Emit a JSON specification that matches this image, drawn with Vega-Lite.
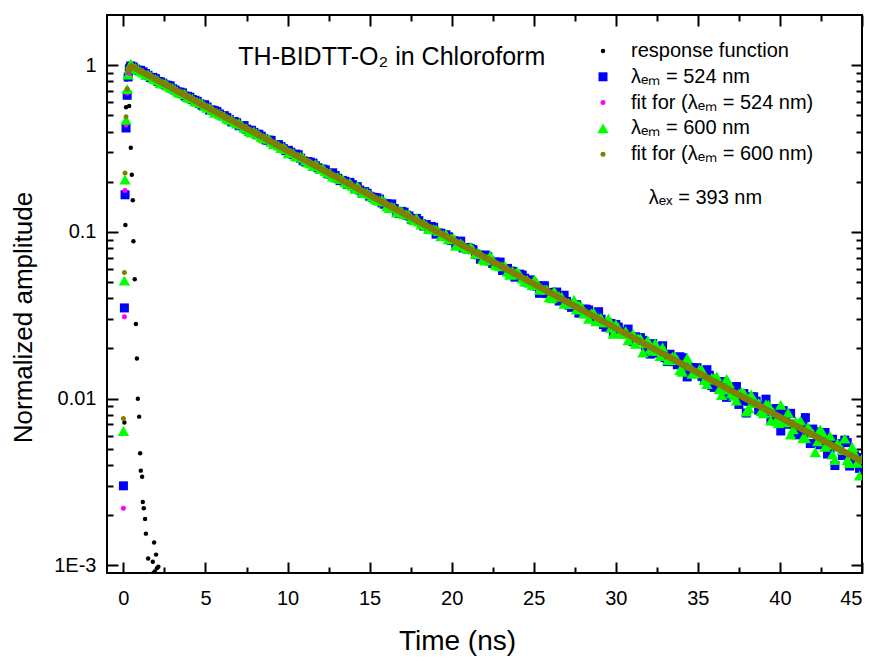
{
"$schema": "https://vega.github.io/schema/vega-lite/v6.json",
"width": 755, "height": 558,
"autosize": {"type": "none"},
"padding": {"left": 107, "top": 15, "right": 15, "bottom": 86},
"background": "white",
"config": {
 "view": {"stroke": "black", "strokeWidth": 2},
 "axis": {"grid": false, "domain": false, "labelFont": "Liberation Sans", "titleFont": "Liberation Sans", "labelColor": "black", "titleColor": "black", "titleFontWeight": "normal", "tickColor": "black", "tickWidth": 2, "labelFontSize": 20, "titleFontSize": 26},
 "legend": {"labelFont": "Liberation Sans", "labelFontSize": 20, "labelColor": "black", "labelLimit": 400, "rowPadding": 5.8, "labelOffset": 18, "padding": 0, "symbolStrokeWidth": 0, "symbolOpacity": 1, "orient": "none", "legendX": 486, "legendY": 26, "direction": "vertical"},
 "text": {"font": "Liberation Sans", "color": "black"}
},
"datasets": {
"pts": [
{"s":"a","t":0.06,"v":0.0072},{"s":"a","t":0.12,"v":0.11},{"s":"a","t":0.16,"v":0.56},{"s":"a","t":0.2,"v":0.82},{"s":"a","t":0.24,"v":1.0},{"s":"a","t":0.3,"v":0.85},{"s":"a","t":0.35,"v":0.57},{"s":"a","t":0.45,"v":0.32},{"s":"a","t":0.51,"v":0.22},{"s":"a","t":0.57,"v":0.155},{"s":"a","t":0.61,"v":0.088},{"s":"a","t":0.69,"v":0.052},{"s":"a","t":0.76,"v":0.028},{"s":"a","t":0.82,"v":0.0174},{"s":"a","t":0.88,"v":0.01},{"s":"a","t":0.96,"v":0.0078},{"s":"a","t":1.02,"v":0.0047},{"s":"a","t":1.06,"v":0.0037},{"s":"a","t":1.14,"v":0.0034},{"s":"a","t":1.18,"v":0.0024},{"s":"a","t":1.24,"v":0.0022},{"s":"a","t":1.32,"v":0.0019},{"s":"a","t":1.37,"v":0.00155},{"s":"a","t":1.51,"v":0.0011},{"s":"a","t":1.79,"v":0.00105},{"s":"a","t":1.83,"v":0.0009},{"s":"a","t":1.87,"v":0.00137},{"s":"a","t":1.91,"v":0.00092},{"s":"a","t":1.99,"v":0.00116},{"s":"a","t":2.04,"v":0.00096},{"s":"a","t":2.13,"v":0.00098},
{"s":"b","t":0.0,"v":0.003},{"s":"b","t":0.06,"v":0.035},{"s":"b","t":0.1,"v":0.167},{"s":"b","t":0.16,"v":0.42},{"s":"b","t":0.23,"v":0.66},{"s":"b","t":0.29,"v":0.85},{"s":"b","t":0.36,"v":0.94},{"s":"b","t":0.45,"v":0.99},
{"s":"b","t":0.6,"v":0.976},{"s":"b","t":0.9,"v":0.9325},{"s":"b","t":1.2,"v":0.9126},{"s":"b","t":1.5,"v":0.8692},{"s":"b","t":1.8,"v":0.8452},{"s":"b","t":2.1,"v":0.7997},{"s":"b","t":2.4,"v":0.7808},{"s":"b","t":2.7,"v":0.7574},{"s":"b","t":3.0,"v":0.7226},{"s":"b","t":3.3,"v":0.6926},
{"s":"b","t":3.6,"v":0.6825},{"s":"b","t":3.9,"v":0.6503},{"s":"b","t":4.2,"v":0.6223},{"s":"b","t":4.5,"v":0.6069},{"s":"b","t":4.8,"v":0.5745},{"s":"b","t":5.1,"v":0.5618},{"s":"b","t":5.4,"v":0.539},{"s":"b","t":5.7,"v":0.5271},{"s":"b","t":6.0,"v":0.4976},{"s":"b","t":6.3,"v":0.4862},
{"s":"b","t":6.6,"v":0.4569},{"s":"b","t":6.9,"v":0.4518},{"s":"b","t":7.2,"v":0.4331},{"s":"b","t":7.5,"v":0.4137},{"s":"b","t":7.8,"v":0.4068},{"s":"b","t":8.1,"v":0.3857},{"s":"b","t":8.4,"v":0.375},{"s":"b","t":8.7,"v":0.3555},{"s":"b","t":9.0,"v":0.3538},{"s":"b","t":9.3,"v":0.3343},
{"s":"b","t":9.6,"v":0.3252},{"s":"b","t":9.9,"v":0.307},{"s":"b","t":10.2,"v":0.3006},{"s":"b","t":10.5,"v":0.293},{"s":"b","t":10.8,"v":0.2771},{"s":"b","t":11.1,"v":0.2628},{"s":"b","t":11.4,"v":0.2617},{"s":"b","t":11.7,"v":0.2494},{"s":"b","t":12.0,"v":0.2382},{"s":"b","t":12.3,"v":0.2356},
{"s":"b","t":12.6,"v":0.2226},{"s":"b","t":12.9,"v":0.2179},{"s":"b","t":13.2,"v":0.2031},{"s":"b","t":13.5,"v":0.2012},{"s":"b","t":13.8,"v":0.1983},{"s":"b","t":14.1,"v":0.1841},{"s":"b","t":14.4,"v":0.1783},{"s":"b","t":14.7,"v":0.1744},{"s":"b","t":15.0,"v":0.1637},{"s":"b","t":15.3,"v":0.1609},
{"s":"b","t":15.6,"v":0.1574},{"s":"b","t":15.9,"v":0.1466},{"s":"b","t":16.2,"v":0.1449},{"s":"b","t":16.5,"v":0.1382},{"s":"b","t":16.8,"v":0.1293},{"s":"b","t":17.1,"v":0.1314},{"s":"b","t":17.4,"v":0.1247},{"s":"b","t":17.7,"v":0.1184},{"s":"b","t":18.0,"v":0.1169},{"s":"b","t":18.3,"v":0.1084},
{"s":"b","t":18.6,"v":0.1072},{"s":"b","t":18.9,"v":0.1066},{"s":"b","t":19.2,"v":0.09857},{"s":"b","t":19.5,"v":0.09421},{"s":"b","t":19.8,"v":0.09352},{"s":"b","t":20.1,"v":0.08865},{"s":"b","t":20.4,"v":0.08779},{"s":"b","t":20.7,"v":0.0801},{"s":"b","t":21.0,"v":0.08039},{"s":"b","t":21.3,"v":0.07829},
{"s":"b","t":21.6,"v":0.07295},{"s":"b","t":21.9,"v":0.07139},{"s":"b","t":22.2,"v":0.07105},{"s":"b","t":22.5,"v":0.06466},{"s":"b","t":22.8,"v":0.06425},{"s":"b","t":23.1,"v":0.05869},{"s":"b","t":23.4,"v":0.06043},{"s":"b","t":23.7,"v":0.05797},{"s":"b","t":24.0,"v":0.05477},{"s":"b","t":24.3,"v":0.05505},
{"s":"b","t":24.6,"v":0.05004},{"s":"b","t":24.9,"v":0.04985},{"s":"b","t":25.2,"v":0.04749},{"s":"b","t":25.5,"v":0.04729},{"s":"b","t":25.8,"v":0.04266},{"s":"b","t":26.1,"v":0.04342},{"s":"b","t":26.4,"v":0.04358},{"s":"b","t":26.7,"v":0.0388},{"s":"b","t":27.0,"v":0.0383},{"s":"b","t":27.3,"v":0.03527},
{"s":"b","t":27.6,"v":0.03664},{"s":"b","t":27.9,"v":0.03358},{"s":"b","t":28.2,"v":0.03439},{"s":"b","t":28.5,"v":0.03155},{"s":"b","t":28.8,"v":0.02953},{"s":"b","t":29.1,"v":0.02995},{"s":"b","t":29.4,"v":0.02682},{"s":"b","t":29.7,"v":0.02822},{"s":"b","t":30.0,"v":0.02787},{"s":"b","t":30.3,"v":0.0252},
{"s":"b","t":30.6,"v":0.02477},{"s":"b","t":30.9,"v":0.02255},{"s":"b","t":31.2,"v":0.02351},{"s":"b","t":31.5,"v":0.02323},{"s":"b","t":31.8,"v":0.02065},{"s":"b","t":32.1,"v":0.0185},{"s":"b","t":32.4,"v":0.02012},{"s":"b","t":32.7,"v":0.01899},{"s":"b","t":33.0,"v":0.01759},{"s":"b","t":33.3,"v":0.01847},
{"s":"b","t":33.6,"v":0.01665},{"s":"b","t":33.9,"v":0.01784},{"s":"b","t":34.2,"v":0.01564},{"s":"b","t":34.5,"v":0.0142},{"s":"b","t":34.8,"v":0.01514},{"s":"b","t":35.1,"v":0.01437},{"s":"b","t":35.4,"v":0.01306},{"s":"b","t":35.7,"v":0.01382},{"s":"b","t":36.0,"v":0.01168},{"s":"b","t":36.3,"v":0.01246},
{"s":"b","t":36.6,"v":0.01265},{"s":"b","t":36.9,"v":0.01085},{"s":"b","t":37.2,"v":0.011},{"s":"b","t":37.5,"v":0.009233},{"s":"b","t":37.8,"v":0.01073},{"s":"b","t":38.1,"v":0.009609},{"s":"b","t":38.4,"v":0.01026},{"s":"b","t":38.7,"v":0.008532},{"s":"b","t":39.0,"v":0.00904},{"s":"b","t":39.3,"v":0.008556},
{"s":"b","t":39.6,"v":0.007413},{"s":"b","t":39.9,"v":0.008323},{"s":"b","t":40.2,"v":0.008476},{"s":"b","t":40.5,"v":0.007021},{"s":"b","t":40.8,"v":0.007031},{"s":"b","t":41.1,"v":0.006065},{"s":"b","t":41.4,"v":0.006875},{"s":"b","t":41.7,"v":0.006249},{"s":"b","t":42.0,"v":0.00657},{"s":"b","t":42.3,"v":0.005455},
{"s":"b","t":42.6,"v":0.00579},{"s":"b","t":42.9,"v":0.004652},{"s":"b","t":43.2,"v":0.005709},{"s":"b","t":43.5,"v":0.005276},{"s":"b","t":43.8,"v":0.00456},{"s":"b","t":44.1,"v":0.005451},{"s":"b","t":44.4,"v":0.004073},{"s":"b","t":44.7,"v":0.004436},{"s":"b","t":45.0,"v":0.00405},
{"s":"b","t":0.75,"v":0.9466},{"s":"b","t":1.05,"v":0.9317},{"s":"b","t":1.35,"v":0.8909},{"s":"b","t":1.65,"v":0.8426},{"s":"b","t":1.95,"v":0.8303},{"s":"b","t":2.25,"v":0.7946},{"s":"b","t":2.55,"v":0.7614},{"s":"b","t":2.85,"v":0.7516},{"s":"b","t":3.15,"v":0.7096},{"s":"b","t":3.45,"v":0.6894},
{"s":"b","t":3.75,"v":0.6531},{"s":"b","t":4.05,"v":0.6429},{"s":"b","t":4.35,"v":0.6157},{"s":"b","t":4.65,"v":0.5875},{"s":"b","t":4.95,"v":0.5795},{"s":"b","t":5.25,"v":0.5386},{"s":"b","t":5.55,"v":0.5337},{"s":"b","t":5.85,"v":0.5099},{"s":"b","t":6.15,"v":0.498},{"s":"b","t":6.45,"v":0.4727},
{"s":"b","t":6.75,"v":0.4594},{"s":"b","t":7.05,"v":0.4336},{"s":"b","t":7.35,"v":0.434},{"s":"b","t":7.65,"v":0.4071},{"s":"b","t":7.95,"v":0.3956},{"s":"b","t":8.25,"v":0.3852},{"s":"b","t":8.55,"v":0.3622},{"s":"b","t":8.85,"v":0.3555},{"s":"b","t":9.15,"v":0.3339},{"s":"b","t":9.45,"v":0.3337},
{"s":"b","t":9.75,"v":0.3158},{"s":"b","t":10.05,"v":0.3087},{"s":"b","t":10.35,"v":0.2905},{"s":"b","t":10.65,"v":0.2904},{"s":"b","t":10.95,"v":0.2673},{"s":"b","t":11.25,"v":0.2643},{"s":"b","t":11.55,"v":0.2585},{"s":"b","t":11.85,"v":0.2425},{"s":"b","t":12.15,"v":0.2379},{"s":"b","t":12.45,"v":0.2231},
{"s":"b","t":12.75,"v":0.2263},{"s":"b","t":13.05,"v":0.2098},{"s":"b","t":13.35,"v":0.2037},{"s":"b","t":13.65,"v":0.1923},{"s":"b","t":13.95,"v":0.1922},{"s":"b","t":14.25,"v":0.1869},{"s":"b","t":14.55,"v":0.1698},{"s":"b","t":14.85,"v":0.1705},{"s":"b","t":15.15,"v":0.1618},{"s":"b","t":15.45,"v":0.1602},
{"s":"b","t":15.75,"v":0.1494},{"s":"b","t":16.05,"v":0.1476},{"s":"b","t":16.35,"v":0.1472},{"s":"b","t":16.65,"v":0.1318},{"s":"b","t":16.95,"v":0.1328},{"s":"b","t":17.25,"v":0.126},{"s":"b","t":17.55,"v":0.1192},{"s":"b","t":17.85,"v":0.1205},{"s":"b","t":18.15,"v":0.1123},{"s":"b","t":18.45,"v":0.1108},
{"s":"b","t":18.75,"v":0.1079},{"s":"b","t":19.05,"v":0.09695},{"s":"b","t":19.35,"v":0.09815},{"s":"b","t":19.65,"v":0.09618},{"s":"b","t":19.95,"v":0.08916},{"s":"b","t":20.25,"v":0.08446},{"s":"b","t":20.55,"v":0.08802},{"s":"b","t":20.85,"v":0.08075},{"s":"b","t":21.15,"v":0.07937},{"s":"b","t":21.45,"v":0.07375},
{"s":"b","t":21.75,"v":0.06851},{"s":"b","t":22.05,"v":0.07271},{"s":"b","t":22.35,"v":0.06687},{"s":"b","t":22.65,"v":0.066},{"s":"b","t":22.95,"v":0.06596},{"s":"b","t":23.25,"v":0.05865},{"s":"b","t":23.55,"v":0.05831},{"s":"b","t":23.85,"v":0.05353},{"s":"b","t":24.15,"v":0.05583},{"s":"b","t":24.45,"v":0.05275},
{"s":"b","t":24.75,"v":0.05161},{"s":"b","t":25.05,"v":0.04749},{"s":"b","t":25.35,"v":0.04283},{"s":"b","t":25.65,"v":0.04753},{"s":"b","t":25.95,"v":0.04326},{"s":"b","t":26.25,"v":0.04328},{"s":"b","t":26.55,"v":0.0385},{"s":"b","t":26.85,"v":0.04169},{"s":"b","t":27.15,"v":0.03639},{"s":"b","t":27.45,"v":0.03645},
{"s":"b","t":27.75,"v":0.03258},{"s":"b","t":28.05,"v":0.03442},{"s":"b","t":28.35,"v":0.03399},{"s":"b","t":28.65,"v":0.03058},{"s":"b","t":28.95,"v":0.03323},{"s":"b","t":29.25,"v":0.02782},{"s":"b","t":29.55,"v":0.02836},{"s":"b","t":29.85,"v":0.02478},{"s":"b","t":30.15,"v":0.02687},{"s":"b","t":30.45,"v":0.02477},
{"s":"b","t":30.75,"v":0.02614},{"s":"b","t":31.05,"v":0.02198},{"s":"b","t":31.35,"v":0.02227},{"s":"b","t":31.65,"v":0.02238},{"s":"b","t":31.95,"v":0.01894},{"s":"b","t":32.25,"v":0.02138},{"s":"b","t":32.55,"v":0.01876},{"s":"b","t":32.85,"v":0.02077},{"s":"b","t":33.15,"v":0.01668},{"s":"b","t":33.45,"v":0.01732},
{"s":"b","t":33.75,"v":0.01597},{"s":"b","t":34.05,"v":0.0176},{"s":"b","t":34.35,"v":0.0135},{"s":"b","t":34.65,"v":0.01538},{"s":"b","t":34.95,"v":0.01534},{"s":"b","t":35.25,"v":0.01359},{"s":"b","t":35.55,"v":0.01492},{"s":"b","t":35.85,"v":0.01197},{"s":"b","t":36.15,"v":0.01262},{"s":"b","t":36.45,"v":0.01259},
{"s":"b","t":36.75,"v":0.01018},{"s":"b","t":37.05,"v":0.01122},{"s":"b","t":37.35,"v":0.01182},{"s":"b","t":37.65,"v":0.009734},{"s":"b","t":37.95,"v":0.008194},{"s":"b","t":38.25,"v":0.01027},{"s":"b","t":38.55,"v":0.009659},{"s":"b","t":38.85,"v":0.008626},{"s":"b","t":39.15,"v":0.009925},{"s":"b","t":39.45,"v":0.007521},
{"s":"b","t":39.75,"v":0.008718},{"s":"b","t":40.05,"v":0.006398},{"s":"b","t":40.35,"v":0.007653},{"s":"b","t":40.65,"v":0.008165},{"s":"b","t":40.95,"v":0.006489},{"s":"b","t":41.25,"v":0.00652},{"s":"b","t":41.55,"v":0.007696},{"s":"b","t":41.85,"v":0.005377},{"s":"b","t":42.15,"v":0.006315},{"s":"b","t":42.45,"v":0.005284},
{"s":"b","t":42.75,"v":0.006266},{"s":"b","t":43.05,"v":0.005016},{"s":"b","t":43.35,"v":0.00397},{"s":"b","t":43.65,"v":0.005373},{"s":"b","t":43.95,"v":0.005638},{"s":"b","t":44.25,"v":0.003942},{"s":"b","t":44.55,"v":0.004545},{"s":"b","t":44.85,"v":0.003817},
{"s":"c","t":0.0,"v":0.0022},{"s":"c","t":0.06,"v":0.031},{"s":"c","t":0.1,"v":0.177},{"s":"c","t":0.16,"v":0.44},{"s":"c","t":0.23,"v":0.68},{"s":"c","t":0.29,"v":0.87},
{"s":"d","t":0.0,"v":0.0064},{"s":"d","t":0.06,"v":0.051},{"s":"d","t":0.1,"v":0.206},{"s":"d","t":0.16,"v":0.47},{"s":"d","t":0.23,"v":0.72},{"s":"d","t":0.29,"v":0.88},{"s":"d","t":0.36,"v":0.95},{"s":"d","t":0.45,"v":1.02},
{"s":"d","t":0.6,"v":0.969},{"s":"d","t":0.9,"v":0.9446},{"s":"d","t":1.2,"v":0.9025},{"s":"d","t":1.5,"v":0.8804},{"s":"d","t":1.8,"v":0.8331},{"s":"d","t":2.1,"v":0.812},{"s":"d","t":2.4,"v":0.7752},{"s":"d","t":2.7,"v":0.7526},{"s":"d","t":3.0,"v":0.7313},{"s":"d","t":3.3,"v":0.6953},
{"s":"d","t":3.6,"v":0.6752},{"s":"d","t":3.9,"v":0.6409},{"s":"d","t":4.2,"v":0.6302},{"s":"d","t":4.5,"v":0.6026},{"s":"d","t":4.8,"v":0.5897},{"s":"d","t":5.1,"v":0.5558},{"s":"d","t":5.4,"v":0.5424},{"s":"d","t":5.7,"v":0.5191},{"s":"d","t":6.0,"v":0.5017},{"s":"d","t":6.3,"v":0.4784},
{"s":"d","t":6.6,"v":0.4712},{"s":"d","t":6.9,"v":0.4473},{"s":"d","t":7.2,"v":0.4402},{"s":"d","t":7.5,"v":0.4183},{"s":"d","t":7.8,"v":0.3949},{"s":"d","t":8.1,"v":0.3904},{"s":"d","t":8.4,"v":0.3709},{"s":"d","t":8.7,"v":0.3639},{"s":"d","t":9.0,"v":0.3465},{"s":"d","t":9.3,"v":0.3362},
{"s":"d","t":9.6,"v":0.3181},{"s":"d","t":9.9,"v":0.3138},{"s":"d","t":10.2,"v":0.2979},{"s":"d","t":10.5,"v":0.284},{"s":"d","t":10.8,"v":0.2828},{"s":"d","t":11.1,"v":0.2687},{"s":"d","t":11.4,"v":0.2577},{"s":"d","t":11.7,"v":0.2552},{"s":"d","t":12.0,"v":0.2379},{"s":"d","t":12.3,"v":0.2317},
{"s":"d","t":12.6,"v":0.225},{"s":"d","t":12.9,"v":0.2121},{"s":"d","t":13.2,"v":0.2084},{"s":"d","t":13.5,"v":0.1982},{"s":"d","t":13.8,"v":0.1968},{"s":"d","t":14.1,"v":0.1816},{"s":"d","t":14.4,"v":0.1812},{"s":"d","t":14.7,"v":0.1721},{"s":"d","t":15.0,"v":0.1679},{"s":"d","t":15.3,"v":0.1582},
{"s":"d","t":15.6,"v":0.1538},{"s":"d","t":15.9,"v":0.152},{"s":"d","t":16.2,"v":0.1389},{"s":"d","t":16.5,"v":0.1401},{"s":"d","t":16.8,"v":0.1339},{"s":"d","t":17.1,"v":0.1274},{"s":"d","t":17.4,"v":0.1269},{"s":"d","t":17.7,"v":0.1173},{"s":"d","t":18.0,"v":0.1152},{"s":"d","t":18.3,"v":0.1128},
{"s":"d","t":18.6,"v":0.1041},{"s":"d","t":18.9,"v":0.104},{"s":"d","t":19.2,"v":0.1013},{"s":"d","t":19.5,"v":0.09542},{"s":"d","t":19.8,"v":0.09023},{"s":"d","t":20.1,"v":0.0922},{"s":"d","t":20.4,"v":0.08473},{"s":"d","t":20.7,"v":0.08323},{"s":"d","t":21.0,"v":0.07905},{"s":"d","t":21.3,"v":0.07845},
{"s":"d","t":21.6,"v":0.07517},{"s":"d","t":21.9,"v":0.06853},{"s":"d","t":22.2,"v":0.06898},{"s":"d","t":22.5,"v":0.06831},{"s":"d","t":22.8,"v":0.06281},{"s":"d","t":23.1,"v":0.06239},{"s":"d","t":23.4,"v":0.05761},{"s":"d","t":23.7,"v":0.0584},{"s":"d","t":24.0,"v":0.0578},{"s":"d","t":24.3,"v":0.05253},
{"s":"d","t":24.6,"v":0.05158},{"s":"d","t":24.9,"v":0.04808},{"s":"d","t":25.2,"v":0.04963},{"s":"d","t":25.5,"v":0.0455},{"s":"d","t":25.8,"v":0.04518},{"s":"d","t":26.1,"v":0.03996},{"s":"d","t":26.4,"v":0.0416},{"s":"d","t":26.7,"v":0.04082},{"s":"d","t":27.0,"v":0.0375},{"s":"d","t":27.3,"v":0.03693},
{"s":"d","t":27.6,"v":0.03421},{"s":"d","t":27.9,"v":0.0358},{"s":"d","t":28.2,"v":0.0325},{"s":"d","t":28.5,"v":0.03247},{"s":"d","t":28.8,"v":0.02909},{"s":"d","t":29.1,"v":0.03048},{"s":"d","t":29.4,"v":0.02866},{"s":"d","t":29.7,"v":0.02664},{"s":"d","t":30.0,"v":0.02796},{"s":"d","t":30.3,"v":0.0253},
{"s":"d","t":30.6,"v":0.0254},{"s":"d","t":30.9,"v":0.02357},{"s":"d","t":31.2,"v":0.02135},{"s":"d","t":31.5,"v":0.02304},{"s":"d","t":31.8,"v":0.02147},{"s":"d","t":32.1,"v":0.01982},{"s":"d","t":32.4,"v":0.02148},{"s":"d","t":32.7,"v":0.01801},{"s":"d","t":33.0,"v":0.01869},{"s":"d","t":33.3,"v":0.01734},
{"s":"d","t":33.6,"v":0.01788},{"s":"d","t":33.9,"v":0.01477},{"s":"d","t":34.2,"v":0.01613},{"s":"d","t":34.5,"v":0.01578},{"s":"d","t":34.8,"v":0.0143},{"s":"d","t":35.1,"v":0.01503},{"s":"d","t":35.4,"v":0.01292},{"s":"d","t":35.7,"v":0.013},{"s":"d","t":36.0,"v":0.01326},{"s":"d","t":36.3,"v":0.01138},
{"s":"d","t":36.6,"v":0.01133},{"s":"d","t":36.9,"v":0.01239},{"s":"d","t":37.2,"v":0.01039},{"s":"d","t":37.5,"v":0.01074},{"s":"d","t":37.8,"v":0.01085},{"s":"d","t":38.1,"v":0.008759},{"s":"d","t":38.4,"v":0.009437},{"s":"d","t":38.7,"v":0.009434},{"s":"d","t":39.0,"v":0.00817},{"s":"d","t":39.3,"v":0.009185},
{"s":"d","t":39.6,"v":0.008268},{"s":"d","t":39.9,"v":0.007145},{"s":"d","t":40.2,"v":0.007341},{"s":"d","t":40.5,"v":0.008225},{"s":"d","t":40.8,"v":0.006556},{"s":"d","t":41.1,"v":0.007031},{"s":"d","t":41.4,"v":0.005797},{"s":"d","t":41.7,"v":0.006768},{"s":"d","t":42.0,"v":0.006206},{"s":"d","t":42.3,"v":0.005543},
{"s":"d","t":42.6,"v":0.006247},{"s":"d","t":42.9,"v":0.005288},{"s":"d","t":43.2,"v":0.004625},{"s":"d","t":43.5,"v":0.005413},{"s":"d","t":43.8,"v":0.004911},{"s":"d","t":44.1,"v":0.004269},{"s":"d","t":44.4,"v":0.005131},{"s":"d","t":44.7,"v":0.004123},{"s":"d","t":45.0,"v":0.004352},
{"s":"d","t":0.75,"v":0.9619},{"s":"d","t":1.05,"v":0.9179},{"s":"d","t":1.35,"v":0.8768},{"s":"d","t":1.65,"v":0.8631},{"s":"d","t":1.95,"v":0.8261},{"s":"d","t":2.25,"v":0.7819},{"s":"d","t":2.55,"v":0.776},{"s":"d","t":2.85,"v":0.7346},{"s":"d","t":3.15,"v":0.7145},{"s":"d","t":3.45,"v":0.6798},
{"s":"d","t":3.75,"v":0.672},{"s":"d","t":4.05,"v":0.6359},{"s":"d","t":4.35,"v":0.6075},{"s":"d","t":4.65,"v":0.596},{"s":"d","t":4.95,"v":0.5682},{"s":"d","t":5.25,"v":0.5568},{"s":"d","t":5.55,"v":0.5203},{"s":"d","t":5.85,"v":0.5127},{"s":"d","t":6.15,"v":0.4969},{"s":"d","t":6.45,"v":0.4717},
{"s":"d","t":6.75,"v":0.457},{"s":"d","t":7.05,"v":0.4491},{"s":"d","t":7.35,"v":0.4208},{"s":"d","t":7.65,"v":0.4018},{"s":"d","t":7.95,"v":0.4002},{"s":"d","t":8.25,"v":0.3827},{"s":"d","t":8.55,"v":0.3656},{"s":"d","t":8.85,"v":0.3615},{"s":"d","t":9.15,"v":0.3361},{"s":"d","t":9.45,"v":0.3295},
{"s":"d","t":9.75,"v":0.3214},{"s":"d","t":10.05,"v":0.296},{"s":"d","t":10.35,"v":0.2967},{"s":"d","t":10.65,"v":0.2827},{"s":"d","t":10.95,"v":0.2786},{"s":"d","t":11.25,"v":0.2605},{"s":"d","t":11.55,"v":0.2487},{"s":"d","t":11.85,"v":0.2473},{"s":"d","t":12.15,"v":0.242},{"s":"d","t":12.45,"v":0.226},
{"s":"d","t":12.75,"v":0.215},{"s":"d","t":13.05,"v":0.2126},{"s":"d","t":13.35,"v":0.208},{"s":"d","t":13.65,"v":0.1942},{"s":"d","t":13.95,"v":0.1889},{"s":"d","t":14.25,"v":0.1886},{"s":"d","t":14.55,"v":0.1711},{"s":"d","t":14.85,"v":0.1718},{"s":"d","t":15.15,"v":0.1634},{"s":"d","t":15.45,"v":0.1551},
{"s":"d","t":15.75,"v":0.1563},{"s":"d","t":16.05,"v":0.1426},{"s":"d","t":16.35,"v":0.1416},{"s":"d","t":16.65,"v":0.1306},{"s":"d","t":16.95,"v":0.1337},{"s":"d","t":17.25,"v":0.1278},{"s":"d","t":17.55,"v":0.1206},{"s":"d","t":17.85,"v":0.1213},{"s":"d","t":18.15,"v":0.1108},{"s":"d","t":18.45,"v":0.1093},
{"s":"d","t":18.75,"v":0.1035},{"s":"d","t":19.05,"v":0.1035},{"s":"d","t":19.35,"v":0.09405},{"s":"d","t":19.65,"v":0.09723},{"s":"d","t":19.95,"v":0.09144},{"s":"d","t":20.25,"v":0.08251},{"s":"d","t":20.55,"v":0.08567},{"s":"d","t":20.85,"v":0.08075},{"s":"d","t":21.15,"v":0.08134},{"s":"d","t":21.45,"v":0.07396},
{"s":"d","t":21.75,"v":0.0737},{"s":"d","t":22.05,"v":0.06723},{"s":"d","t":22.35,"v":0.07192},{"s":"d","t":22.65,"v":0.06378},{"s":"d","t":22.95,"v":0.06212},{"s":"d","t":23.25,"v":0.06256},{"s":"d","t":23.55,"v":0.05534},{"s":"d","t":23.85,"v":0.05659},{"s":"d","t":24.15,"v":0.05546},{"s":"d","t":24.45,"v":0.05044},
{"s":"d","t":24.75,"v":0.04949},{"s":"d","t":25.05,"v":0.05177},{"s":"d","t":25.35,"v":0.04499},{"s":"d","t":25.65,"v":0.04526},{"s":"d","t":25.95,"v":0.04052},{"s":"d","t":26.25,"v":0.04416},{"s":"d","t":26.55,"v":0.04121},{"s":"d","t":26.85,"v":0.03711},{"s":"d","t":27.15,"v":0.03749},{"s":"d","t":27.45,"v":0.03919},
{"s":"d","t":27.75,"v":0.03623},{"s":"d","t":28.05,"v":0.0324},{"s":"d","t":28.35,"v":0.0301},{"s":"d","t":28.65,"v":0.03292},{"s":"d","t":28.95,"v":0.03052},{"s":"d","t":29.25,"v":0.02869},{"s":"d","t":29.55,"v":0.03031},{"s":"d","t":29.85,"v":0.02451},{"s":"d","t":30.15,"v":0.02674},{"s":"d","t":30.45,"v":0.02439},
{"s":"d","t":30.75,"v":0.02237},{"s":"d","t":31.05,"v":0.02449},{"s":"d","t":31.35,"v":0.02294},{"s":"d","t":31.65,"v":0.01888},{"s":"d","t":31.95,"v":0.02231},{"s":"d","t":32.25,"v":0.01934},{"s":"d","t":32.55,"v":0.01934},{"s":"d","t":32.85,"v":0.02032},{"s":"d","t":33.15,"v":0.017},{"s":"d","t":33.45,"v":0.01794},
{"s":"d","t":33.75,"v":0.01705},{"s":"d","t":34.05,"v":0.01447},{"s":"d","t":34.35,"v":0.01752},{"s":"d","t":34.65,"v":0.01409},{"s":"d","t":34.95,"v":0.0142},{"s":"d","t":35.25,"v":0.01489},{"s":"d","t":35.55,"v":0.01222},{"s":"d","t":35.85,"v":0.01336},{"s":"d","t":36.15,"v":0.0136},{"s":"d","t":36.45,"v":0.01052},
{"s":"d","t":36.75,"v":0.01313},{"s":"d","t":37.05,"v":0.01075},{"s":"d","t":37.35,"v":0.009727},{"s":"d","t":37.65,"v":0.01097},{"s":"d","t":37.95,"v":0.008364},{"s":"d","t":38.25,"v":0.01059},{"s":"d","t":38.55,"v":0.009423},{"s":"d","t":38.85,"v":0.008399},{"s":"d","t":39.15,"v":0.009267},{"s":"d","t":39.45,"v":0.00738},
{"s":"d","t":39.75,"v":0.007358},{"s":"d","t":40.05,"v":0.009174},{"s":"d","t":40.35,"v":0.007207},{"s":"d","t":40.65,"v":0.006088},{"s":"d","t":40.95,"v":0.007317},{"s":"d","t":41.25,"v":0.007385},{"s":"d","t":41.55,"v":0.005772},{"s":"d","t":41.85,"v":0.006428},{"s":"d","t":42.15,"v":0.004766},{"s":"d","t":42.45,"v":0.006547},
{"s":"d","t":42.75,"v":0.005136},{"s":"d","t":43.05,"v":0.005976},{"s":"d","t":43.35,"v":0.004279},{"s":"d","t":43.65,"v":0.005135},{"s":"d","t":43.95,"v":0.005753},{"s":"d","t":44.25,"v":0.004108},{"s":"d","t":44.55,"v":0.004705},{"s":"d","t":44.85,"v":0.003457},
{"s":"e","t":0.0,"v":0.0076},{"s":"e","t":0.06,"v":0.057},{"s":"e","t":0.1,"v":0.226},{"s":"e","t":0.16,"v":0.49},{"s":"e","t":0.23,"v":0.72},{"s":"e","t":0.29,"v":0.9}
],
"fit": [
{"s":"c","t":0.29,"v":0.87},{"s":"c","t":0.4,"v":0.96},{"s":"c","t":0.5,"v":0.985},{"s":"c","t":1,"v":0.926},{"s":"c","t":5,"v":0.567},{"s":"c","t":10,"v":0.307},{"s":"c","t":15,"v":0.1664},{"s":"c","t":20,"v":0.0901},{"s":"c","t":25,"v":0.0488},{"s":"c","t":30,"v":0.02644},{"s":"c","t":35,"v":0.01432},{"s":"c","t":40,"v":0.00775},{"s":"c","t":45,"v":0.0042},
{"s":"e","t":0.29,"v":0.9},{"s":"e","t":0.4,"v":0.97},{"s":"e","t":0.5,"v":0.985},{"s":"e","t":1,"v":0.926},{"s":"e","t":5,"v":0.567},{"s":"e","t":10,"v":0.307},{"s":"e","t":15,"v":0.1664},{"s":"e","t":20,"v":0.0901},{"s":"e","t":25,"v":0.0488},{"s":"e","t":30,"v":0.02644},{"s":"e","t":35,"v":0.01432},{"s":"e","t":40,"v":0.00775},{"s":"e","t":45,"v":0.0042}
]
},
"layer": [
{
 "data": {"name": "pts"},
 "mark": {"type": "point", "filled": true, "opacity": 1, "strokeWidth": 0, "clip": true},
 "encoding": {
  "x": {"field": "t", "type": "quantitative", "scale": {"type": "linear", "domain": [-1, 45], "nice": false, "zero": false},
        "axis": {"orient": "bottom", "values": [0,5,10,15,20,25,30,35,40,45], "format": "d", "ticks": false, "labelPadding": 15, "title": "Time (ns)", "titleFontSize": 28, "titleX": 350, "titleY": 76, "titleBaseline": "alphabetic", "titleAlign": "center"}},
  "y": {"field": "v", "type": "quantitative", "scale": {"type": "log", "domain": [0.0009, 2], "nice": false},
        "axis": {"orient": "left", "values": [0.001,0.01,0.1,1], "labelExpr": "datum.value < 0.005 ? '1E-3' : datum.value < 0.05 ? '0.01' : datum.value < 0.5 ? '0.1' : '1'", "ticks": false, "labelPadding": 11, "title": "Normalized amplitude", "titleX": -76, "titleY": 302, "titleBaseline": "alphabetic", "titleAlign": "center", "titleAngle": 270}},
  "color": {"field": "s", "type": "nominal", "scale": {"domain": ["a","b","c","d","e"], "range": ["#000000","#0000ff","#ff00ff","#00ff00","#808000"]},
            "legend": {"title": null, "labelExpr": "datum.label == 'a' ? 'response function' : datum.label == 'b' ? 'λₑₘ = 524 nm' : datum.label == 'c' ? 'fit for (λₑₘ = 524 nm)' : datum.label == 'd' ? 'λₑₘ = 600 nm' : 'fit for (λₑₘ = 600 nm)'"}},
  "shape": {"field": "s", "type": "nominal", "scale": {"domain": ["a","b","c","d","e"], "range": ["circle","square","circle","triangle-up","circle"]},
            "legend": {"title": null, "labelExpr": "datum.label == 'a' ? 'response function' : datum.label == 'b' ? 'λₑₘ = 524 nm' : datum.label == 'c' ? 'fit for (λₑₘ = 524 nm)' : datum.label == 'd' ? 'λₑₘ = 600 nm' : 'fit for (λₑₘ = 600 nm)'"}},
  "size": {"field": "s", "type": "nominal", "scale": {"type": "ordinal", "domain": ["a","b","c","d","e"], "range": [20,81,25,130,25]},
            "legend": {"title": null, "labelExpr": "datum.label == 'a' ? 'response function' : datum.label == 'b' ? 'λₑₘ = 524 nm' : datum.label == 'c' ? 'fit for (λₑₘ = 524 nm)' : datum.label == 'd' ? 'λₑₘ = 600 nm' : 'fit for (λₑₘ = 600 nm)'"}}
 }
},
{
 "data": {"name": "fit"},
 "transform": [{"filter": "datum.s == 'c'"}],
 "mark": {"type": "line", "color": "#ff00ff", "strokeWidth": 4, "clip": true, "strokeJoin": "round"},
 "encoding": {
  "x": {"field": "t", "type": "quantitative", "scale": {"type": "linear", "domain": [-1, 45], "nice": false, "zero": false},
        "axis": {"orient": "bottom", "values": [0,5,10,15,20,25,30,35,40,45], "labels": false, "title": null, "tickSize": -11}},
  "y": {"field": "v", "type": "quantitative", "scale": {"type": "log", "domain": [0.0009, 2], "nice": false},
        "axis": {"orient": "left", "values": [0.001,0.01,0.1,1], "labels": false, "title": null, "tickSize": -11}}
 }
},
{
 "data": {"name": "fit"},
 "transform": [{"filter": "datum.s == 'e'"}],
 "mark": {"type": "line", "color": "#808000", "strokeWidth": 6.5, "clip": true, "strokeJoin": "round"},
 "encoding": {
  "x": {"field": "t", "type": "quantitative", "scale": {"type": "linear", "domain": [-1, 45], "nice": false, "zero": false},
        "axis": {"orient": "bottom", "values": [2.5,7.5,12.5,17.5,22.5,27.5,32.5,37.5,42.5], "labels": false, "title": null, "tickSize": -6}},
  "y": {"field": "v", "type": "quantitative", "scale": {"type": "log", "domain": [0.0009, 2], "nice": false},
        "axis": {"orient": "left", "values": [0.002,0.003,0.004,0.005,0.006,0.007,0.008,0.009,0.02,0.03,0.04,0.05,0.06,0.07,0.08,0.09,0.2,0.3,0.4,0.5,0.6,0.7,0.8,0.9], "labels": false, "title": null, "tickSize": -6}}
 }
},
{
 "data": {"values": [{}]},
 "mark": {"type": "text", "text": "TH-BIDTT-O₂ in Chloroform", "fontSize": 25, "align": "left", "baseline": "middle", "font": "Liberation Sans", "color": "black"},
 "encoding": {
  "x": {"datum": 7.0, "type": "quantitative", "scale": {"type": "linear", "domain": [-1, 45], "nice": false, "zero": false},
        "axis": {"orient": "top", "values": [0,5,10,15,20,25,30,35,40,45], "labels": false, "title": null, "tickSize": -11}},
  "y": {"datum": 1.12, "type": "quantitative", "scale": {"type": "log", "domain": [0.0009, 2], "nice": false},
        "axis": {"orient": "right", "values": [0.001,0.01,0.1,1], "labels": false, "title": null, "tickSize": -11}}
 }
},
{
 "data": {"values": [{}]},
 "mark": {"type": "text", "text": "λₑₓ = 393 nm", "fontSize": 20, "align": "left", "baseline": "middle", "font": "Liberation Sans", "color": "black"},
 "encoding": {
  "x": {"datum": 32.0, "type": "quantitative", "scale": {"type": "linear", "domain": [-1, 45], "nice": false, "zero": false},
        "axis": {"orient": "top", "values": [2.5,7.5,12.5,17.5,22.5,27.5,32.5,37.5,42.5], "labels": false, "title": null, "tickSize": -6}},
  "y": {"datum": 0.16, "type": "quantitative", "scale": {"type": "log", "domain": [0.0009, 2], "nice": false},
        "axis": {"orient": "right", "values": [0.002,0.003,0.004,0.005,0.006,0.007,0.008,0.009,0.02,0.03,0.04,0.05,0.06,0.07,0.08,0.09,0.2,0.3,0.4,0.5,0.6,0.7,0.8,0.9], "labels": false, "title": null, "tickSize": -6}}
 }
}
],
"resolve": {"axis": {"x": "independent", "y": "independent"}}
}
